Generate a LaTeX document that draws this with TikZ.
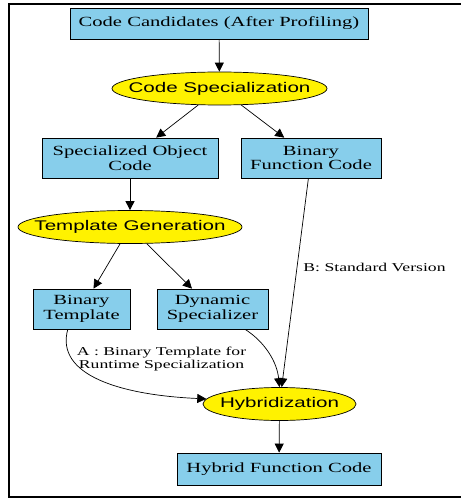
\documentclass[tikz,border=0pt]{standalone}
\usepackage{fontspec}
\setmainfont[FakeStretch=1.47]{Liberation Serif}
\newfontfamily\helv[FakeStretch=1.47]{Liberation Sans}
\usetikzlibrary{shapes.geometric,arrows.meta}
\definecolor{boxblue}{RGB}{135,206,235}
\newcommand{\ovtext}[1]{\makebox[0pt]{#1}}

\begin{document}
\begin{tikzpicture}[x=1bp,y=-1bp,
    box/.style={draw,fill=boxblue,line width=0.7bp,inner sep=0pt,align=center,
      font=\fontsize{14bp}{14.5bp}\selectfont},
    oval/.style={ellipse,draw,fill=yellow,line width=0.7bp,inner sep=0pt,
      font=\helv\fontsize{14bp}{16bp}\selectfont},
    lbl/.style={inner sep=0pt,align=center,font=\fontsize{12bp}{13.5bp}\selectfont},
    >={Triangle[length=9bp,width=9bp]}]
    \useasboundingbox (0,0) rectangle (461,499);
    \draw[line width=2bp] (475,4) -- (9,4) -- (9,497) -- (475,497);

    \node[box,minimum width=298bp,minimum height=31bp] (cand) at (219,23.5) {Code Candidates (After Profiling)};
    \node[oval,minimum width=215bp,minimum height=33bp] (cspec) at (219.5,88.5) {\ovtext{Code Specialization}};
    \node[box,minimum width=176bp,minimum height=40bp] (sobj) at (130,158) {Specialized Object\\Code};
    \node[box,minimum width=140bp,minimum height=40bp] (bfunc) at (311,158) {Binary\\Function Code};
    \node[oval,minimum width=224bp,minimum height=33bp] (tgen) at (130,227) {\ovtext{Template Generation}};
    \node[box,minimum width=97bp,minimum height=40bp] (btmpl) at (81.5,309) {Binary\\Template};
    \node[box,minimum width=111bp,minimum height=40bp] (dspec) at (212.5,309) {Dynamic\\Specializer};
    \node[oval,minimum width=153bp,minimum height=33bp] (hyb) at (279.5,404) {\ovtext{Hybridization}};
    \node[box,minimum width=204bp,minimum height=32bp] (hfc) at (279,469) {Hybrid Function Code};

    \node[lbl] (lblB) at (374.5,267.5) {B: Standard Version};
    \node[lbl] (lblA) at (161.5,359) {A : Binary Template for\\Runtime Specialization};

    \draw[->,line width=0.7bp] (cand) -- (cspec);
    \draw[->,line width=0.7bp] (cspec) -- (sobj);
    \draw[->,line width=0.7bp] (cspec) -- (bfunc);
    \draw[->,line width=0.7bp] (sobj) -- (tgen);
    \draw[->,line width=0.7bp] (tgen) -- (btmpl);
    \draw[->,line width=0.7bp] (tgen) -- (dspec);
    \draw[->,line width=0.7bp] (bfunc) -- (hyb);
    \draw[->,line width=0.7bp] (btmpl.-124) .. controls (55,375) and (120,395) .. (hyb.176);
    \draw[->,line width=0.7bp] (dspec.-32) .. controls (265,342) and (277,362) .. (hyb.north);
    \draw[->,line width=0.7bp] (hyb) -- (hfc);
\end{tikzpicture}
\end{document}
